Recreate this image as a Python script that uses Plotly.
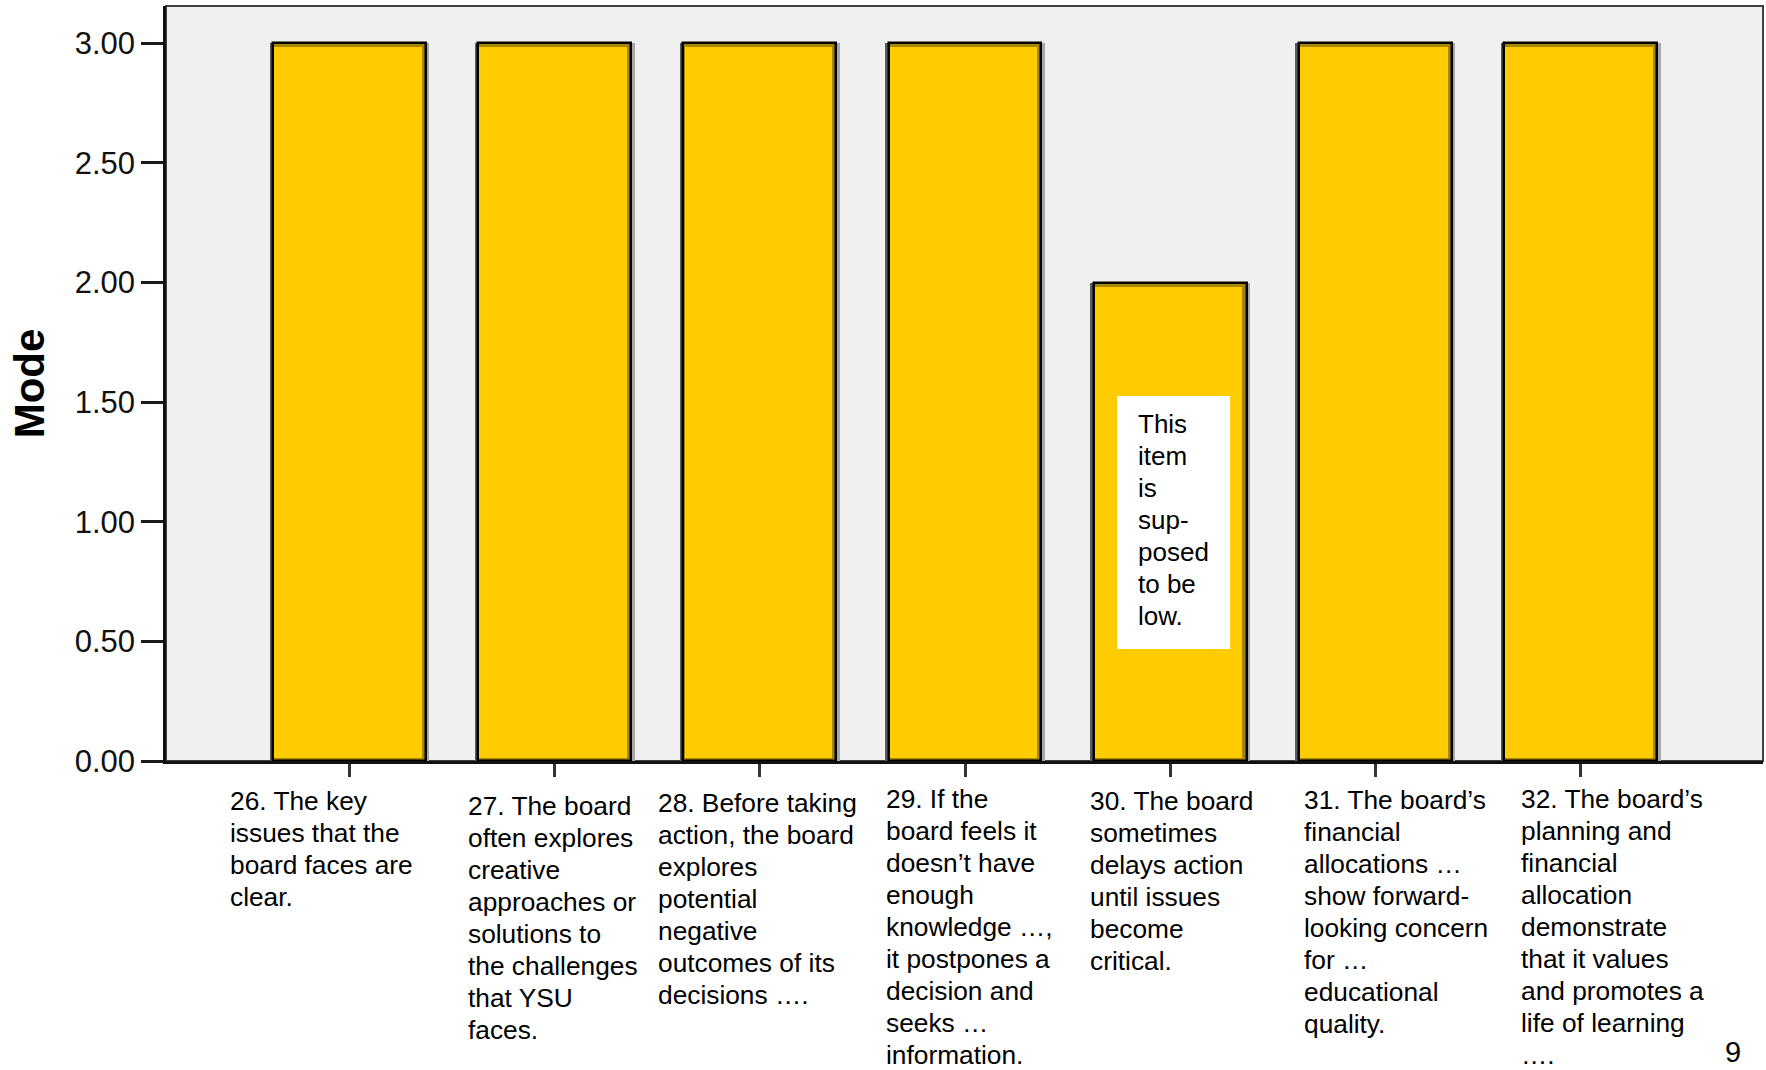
import plotly.graph_objects as go

# Survey items (questions 26-32) and the mode of the responses for each
items = ["26", "27", "28", "29", "30", "31", "32"]
item_labels = [
    ["26. The key", "issues that the", "board faces are", "clear."],
    ["27. The board", "often explores", "creative", "approaches or", "solutions to",
     "the challenges", "that YSU", "faces."],
    ["28. Before taking", "action, the board", "explores", "potential", "negative",
     "outcomes of its", "decisions …."],
    ["29. If the", "board feels it", "doesn’t have", "enough", "knowledge …,",
     "it postpones a", "decision and", "seeks …", "information."],
    ["30. The board", "sometimes", "delays action", "until issues", "become", "critical."],
    ["31. The board’s", "financial", "allocations …", "show forward-",
     "looking concern", "for …", "educational", "quality."],
    ["32. The board’s", "planning and", "financial", "allocation", "demonstrate",
     "that it values", "and promotes a", "life of learning", "…."],
]
modes = [3, 3, 3, 3, 2, 3, 3]

y_tick_values = [0, 0.5, 1.0, 1.5, 2.0, 2.5, 3.0]
y_tick_labels = ["0.00", "0.50", "1.00", "1.50", "2.00", "2.50", "3.00"]

note_lines = ["This", "item", "is", "sup-", "posed", "to be", "low."]
page_number = "9"

# ---- layout / style constants -------------------------------------------
FONT = "Liberation Sans, Arial, sans-serif"
TEXT_SIZE = 26.3
LINE_STEP = 32          # px between text baselines
W, H = 1766, 1070
M_L, M_R, M_T, M_B = 166, 3, 6, 309
X_RANGE = [-0.894, 6.889]
Y_RANGE = [0, 3.156]
PX_X = (W - M_L - M_R) / (X_RANGE[1] - X_RANGE[0])   # px per category step
PX_Y = (H - M_T - M_B) / (Y_RANGE[1] - Y_RANGE[0])   # px per unit of mode

BAR_W = 0.745
GOLD = "#FFCC00"
GOLD_DARK = "#A88700"

# Label placement: pixel shift from the tick, and first-baseline depth below the axis
label_xshift = [-120, -88, -103, -80, -81, -72, -61]
label_baseline = [49, 54, 51.5, 47.4, 48.7, 48, 47.4]

# baseline -> centre of the text box, for a single-line annotation
BASE_TO_MID = 0.3465

fig = go.Figure()

# Shadows: darker on the left edge, lighter on the right edge
sh = 3.5 / PX_X
fig.add_trace(go.Bar(
    x=items, y=modes, width=BAR_W / 2 + sh, offset=-BAR_W / 2 - sh,
    marker=dict(color="#5c5c5c", line=dict(width=0)),
    hoverinfo="skip", showlegend=False,
))
fig.add_trace(go.Bar(
    x=items, y=modes, width=BAR_W / 2 + sh, offset=0,
    marker=dict(color="#a8a8a8", line=dict(width=0)),
    hoverinfo="skip", showlegend=False,
))
# Bar body (dark gold shows as the inner bevel on top, right and bottom)
fig.add_trace(go.Bar(
    x=items, y=modes, width=BAR_W,
    marker=dict(color=GOLD_DARK, line=dict(color="#000000", width=2.5)),
    hoverinfo="skip", showlegend=False,
))
# Bright face of each bar
in_l, in_r = 1.25 / PX_X, 4.25 / PX_X
in_top, in_bot = 4.0 / PX_Y, 3.5 / PX_Y
fig.add_trace(go.Bar(
    x=items, y=[m - in_top - in_bot for m in modes], base=in_bot,
    width=BAR_W - in_l - in_r, offset=-BAR_W / 2 + in_l,
    marker=dict(color=GOLD, line=dict(width=0)),
    customdata=modes, hovertemplate="%{x}: %{customdata}<extra></extra>",
    showlegend=False,
))

annotations = []
for idx, (lines, dx, b0) in enumerate(zip(item_labels, label_xshift, label_baseline)):
    for k, line in enumerate(lines):
        mid_below_axis = b0 + k * LINE_STEP - BASE_TO_MID * TEXT_SIZE
        annotations.append(dict(
            x=idx, xref="x", y=0, yref="paper",
            xanchor="left", yanchor="middle", align="left",
            xshift=dx, yshift=-mid_below_axis,
            text=line, showarrow=False, borderpad=0,
            font=dict(family=FONT, size=TEXT_SIZE, color="#000"),
        ))

# Note on the low item: white box with the text inside
NOTE_SIZE = 26
note_first_baseline = 328.3   # px above the axis
for k, line in enumerate(note_lines):
    mid_above_axis = note_first_baseline - k * LINE_STEP + BASE_TO_MID * NOTE_SIZE
    annotations.append(dict(
        x=3.838, xref="x", y=0, yref="paper",
        xanchor="left", yanchor="middle", align="left",
        yshift=mid_above_axis,
        text=line, showarrow=False, borderpad=0,
        font=dict(family=FONT, size=NOTE_SIZE, color="#000"),
    ))

annotations.append(dict(
    x=0.975, xref="paper", y=-0.385, yref="paper",
    xanchor="left", yanchor="middle",
    text=page_number, showarrow=False,
    font=dict(family=FONT, size=29, color="#000"),
))

shapes = [
    dict(type="rect", xref="x", yref="y", x0=3.741, x1=4.292, y0=0.468, y1=1.526,
         fillcolor="#FFFFFF", line=dict(width=0), layer="above"),
    # top / right frame of the plot area
    dict(type="rect", xref="paper", yref="paper", x0=0, x1=1, y0=0, y1=1,
         line=dict(color="#404040", width=2), layer="below"),
]

fig.update_layout(
    width=W, height=H,
    margin=dict(l=M_L, r=M_R, t=M_T, b=M_B),
    paper_bgcolor="#FFFFFF",
    plot_bgcolor="#F0F0F0",
    barmode="overlay",
    bargap=0,
    annotations=annotations,
    shapes=shapes,
    font=dict(family=FONT, color="#000"),
)

fig.update_xaxes(
    type="category",
    range=X_RANGE,
    showticklabels=False,
    ticks="outside", ticklen=13, tickwidth=3, tickcolor="#333333",
    showline=True, linecolor="#111111", linewidth=3,
    showgrid=False, zeroline=False,
)

fig.update_yaxes(
    range=Y_RANGE,
    tickvals=y_tick_values, ticktext=y_tick_labels,
    ticks="outside", ticklen=22, tickwidth=3, tickcolor="#1a1a1a",
    tickfont=dict(family=FONT, size=31, color="#111"),
    showline=True, linecolor="#111111", linewidth=2.5,
    showgrid=False, zeroline=False,
    title=dict(text="<b>Mode</b>", font=dict(family=FONT, size=42, color="#000"), standoff=18),
)

fig.write_html("out.html")
